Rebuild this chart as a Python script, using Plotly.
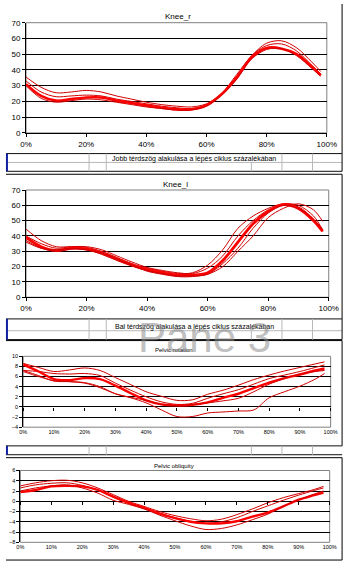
import plotly.graph_objects as go

W, H = 354, 567

# ---------------- data ----------------
x_pct = [0, 5, 10, 15, 20, 25, 30, 35, 40, 45, 50, 55, 60, 65, 70, 75, 80, 85, 90, 95, 98]

knee_r_1 = [35.5, 29, 25.5, 26, 27, 26, 23.5, 21.5, 19.5, 18, 17, 16.5, 18.5, 25, 37, 49, 57, 58.5, 54, 45, 39]
knee_r_2 = [33, 26, 23, 23.5, 24, 23.5, 21.5, 20, 18.5, 17, 16, 15.5, 18, 25, 36, 49, 55.5, 56.5, 52, 43, 37.5]
knee_r_3 = [31, 23.5, 20.5, 21.5, 22.5, 22.5, 20.5, 19, 17.5, 16, 15, 15, 17.5, 24.5, 35, 48, 54, 53.5, 50, 42, 36.5]
knee_r_4 = [30, 22, 19.5, 20.5, 21.5, 21, 19.5, 18, 16.5, 15.5, 14.5, 14.5, 17, 24, 34, 47, 53, 53.5, 49, 41, 36]

knee_l_1 = [44.5, 37, 33, 33, 32.5, 30, 26, 22, 19, 17, 15.5, 16, 21, 31, 45, 53, 58, 61, 60, 53, 44]
knee_l_2 = [40, 35, 32, 33, 33, 31, 27, 23, 19.5, 17.5, 16, 15.5, 19, 27, 40, 50, 57, 60.5, 59, 51, 43]
knee_l_3 = [39, 33, 30.5, 32, 31.5, 29, 25, 21, 18, 16, 14.5, 14.5, 16, 24, 36, 48, 56, 60.5, 58, 50, 43]
knee_l_4 = [37, 32, 30, 31.5, 31, 28, 24, 20.5, 17.5, 15.5, 14, 14, 15, 22, 32, 45, 55, 60, 58, 51, 44]
knee_l_5 = [36, 32, 31, 32, 31, 29, 25, 21, 17, 15, 13.5, 13.5, 15, 20, 30, 40, 52, 58, 61, 57, 49.5]

pelv_rot_1 = [8.6, 7.8, 7.0, 7.3, 7.7, 7.2, 5.8, 4.4, 3.0, 2.1, 1.3, 1.4, 2.5, 3.3, 4.3, 5.4, 6.3, 7.1, 7.8, 8.5, 8.9]
pelv_rot_2 = [7.2, 7.0, 6.6, 6.5, 6.6, 6.2, 4.7, 3.3, 2.0, 1.0, 0.5, 0.7, 1.7, 2.6, 3.4, 4.5, 5.6, 6.3, 7.0, 7.8, 8.3]
pelv_rot_3 = [8.4, 7.0, 5.5, 5.3, 5.7, 5.5, 4.2, 2.7, 1.3, 0.5, 0.3, 0.4, 0.9, 1.8, 2.6, 3.7, 4.8, 5.7, 6.4, 7.2, 7.6]
pelv_rot_4 = [7.2, 6.2, 5.1, 5.0, 4.8, 4.0, 2.6, 1.9, 1.3, 0.5, 0.3, 0.5, 0.8, 1.2, 1.7, 3.0, 4.5, 5.6, 6.5, 7.0, 7.2]
pelv_rot_5 = [7.0, 6.0, 5.2, 5.0, 4.7, 3.8, 2.6, 1.8, 0.8, -0.6, -1.9, -1.9, -1.2, -1.0, -0.8, -0.6, 1.8, 3.0, 4.1, 5.5, 6.6]

pelv_obl_1 = [3.0, 3.6, 4.0, 4.1, 3.6, 2.6, 1.3, 0.0, -1.0, -2.0, -2.8, -3.4, -3.8, -3.5, -2.6, -1.5, -0.3, 0.7, 1.5, 2.3, 2.9]
pelv_obl_2 = [2.6, 3.2, 3.5, 3.6, 3.1, 2.2, 0.8, -0.4, -1.3, -2.3, -3.2, -3.9, -4.3, -4.0, -3.2, -2.0, -0.9, 0.2, 1.2, 2.1, 2.6]
pelv_obl_3 = [1.8, 2.2, 2.9, 3.0, 2.9, 2.2, 0.9, -0.3, -1.3, -2.4, -3.3, -4.0, -4.3, -4.3, -3.9, -3.0, -2.2, -1.0, 0.3, 1.2, 1.7]
pelv_obl_4 = [2.0, 2.6, 3.0, 3.2, 2.6, 1.6, 0.2, -0.6, -1.5, -2.7, -3.8, -4.8, -5.5, -5.3, -4.6, -3.6, -2.5, -1.0, 0.3, 1.4, 2.0]

titles = ["Knee_r", "Knee_l", "Pelvic rotation", "Pelvic obliquity"]
row_texts = ["Jobb térdszög alakulása a lépés ciklus százalékában",
             "Bal térdszög alakulása a lépés ciklus százalékában"]

# ---------------- helpers ----------------
def px(x):
    return x / W

def py(y):
    return 1 - y / H

FONT = "Liberation Sans, Arial, sans-serif"
THIN = "#d00000"
THICK = "#ff0000"

fig = go.Figure()

charts = [
    dict(series=[(knee_r_1, 1), (knee_r_2, 1), (knee_r_3, 2.6), (knee_r_4, 1)],
         xd=[21, 336], yd=[19, 131], yr=[0, 70], ydt=10, xdt=20, fs=8, title_y=13, title_x=180, tfs=8),
    dict(series=[(knee_l_1, 1), (knee_l_2, 1), (knee_l_3, 2.8), (knee_l_4, 1), (knee_l_5, 1)],
         xd=[21, 338], yd=[189, 298], yr=[0, 70], ydt=10, xdt=20, fs=8, title_y=183, title_x=177, tfs=8),
    dict(series=[(pelv_rot_1, 1), (pelv_rot_2, 1), (pelv_rot_3, 2.4), (pelv_rot_4, 1), (pelv_rot_5, 1)],
         xd=[18, 340], yd=[358, 430], yr=[-4, 10], ydt=2, xdt=10, fs=5.5, title_y=352, title_x=176, tfs=6),
    dict(series=[(pelv_obl_1, 1), (pelv_obl_2, 1), (pelv_obl_3, 2.4), (pelv_obl_4, 1)],
         xd=[15, 339], yd=[474, 547], yr=[-8, 6], ydt=2, xdt=10, fs=5.5, title_y=469, title_x=176, tfs=6),
]

shapes = []
annotations = []

for i, c in enumerate(charts):
    n = i + 1
    xa = "x" if n == 1 else f"x{n}"
    ya = "y" if n == 1 else f"y{n}"
    xkey = "xaxis" if n == 1 else f"xaxis{n}"
    ykey = "yaxis" if n == 1 else f"yaxis{n}"
    for vals, lw in c["series"]:
        fig.add_trace(go.Scatter(x=x_pct, y=vals, mode="lines", xaxis=xa, yaxis=ya,
                                 line=dict(color=THICK if lw > 1.5 else THIN, width=lw, shape="spline", smoothing=0.9),
                                 showlegend=False, hoverinfo="skip"))
    ydom = [py(c["yd"][1]), py(c["yd"][0])]
    xdom = [px(c["xd"][0]), px(c["xd"][1])]
    small = c["fs"] < 7
    fig.update_layout(**{
        xkey: dict(domain=xdom, range=[0, 100], anchor=ya, dtick=c["xdt"], tick0=0,
                   ticksuffix="%", showgrid=False, zeroline=False,
                   showline=not small, linecolor="black", linewidth=1,
                   ticks="" if small else "outside", ticklen=3, tickcolor="black",
                   tickfont=dict(family=FONT, size=c["fs"], color="black")),
        ykey: dict(domain=ydom, range=c["yr"], anchor=xa, dtick=c["ydt"], tick0=0,
                   showgrid=True, gridcolor="black", gridwidth=1, zeroline=False,
                   showline=True, linecolor="black", linewidth=1,
                   ticks="outside", ticklen=3, tickcolor="black",
                   tickfont=dict(family=FONT, size=c["fs"], color="black")),
    })
    if small:
        # Excel-style category axis crossing at zero: tick marks on the 0 line
        zero_pos = ydom[0] + (0 - c["yr"][0]) / (c["yr"][1] - c["yr"][0]) * (ydom[1] - ydom[0])
        xk2 = f"xaxis{n + 4}"
        fig.update_layout(**{
            xk2: dict(domain=xdom, range=[0, 100], anchor="free", position=zero_pos, overlaying=xa,
                      dtick=c["xdt"], tick0=0, showticklabels=False, showgrid=False, zeroline=False,
                      showline=False, ticks="outside", ticklen=3, tickcolor="black")})
        fig.add_trace(go.Scatter(x=[None], y=[None], xaxis=f"x{n + 4}", yaxis=ya, showlegend=False))
    # plot-area border (gray)
    shapes.append(dict(type="rect", xref=f"{xa} domain", yref=f"{ya} domain", x0=0, x1=1, y0=0, y1=1,
                       line=dict(color="#808080", width=1), layer="below"))
    annotations.append(dict(text=titles[i], x=px(c["title_x"]), y=py(c["title_y"]), xref="paper", yref="paper",
                            showarrow=False, xanchor="center", yanchor="middle",
                            font=dict(family=FONT, size=c["tfs"], color="black")))

# chart frames (black)
def hline(y, x0=0, x1=352, color="black", w=1):
    shapes.append(dict(type="line", xref="paper", yref="paper", x0=px(x0), x1=px(x1), y0=py(y), y1=py(y),
                       line=dict(color=color, width=w)))

def vline(x, y0, y1, color="black", w=1):
    shapes.append(dict(type="line", xref="paper", yref="paper", x0=px(x), x1=px(x), y0=py(y0), y1=py(y1),
                       line=dict(color=color, width=w)))

GRAY = "#b8b8b8"
# frames
vline(352, 0, 152)
vline(352, 173, 320)
hline(173)
vline(352, 342, 449)
hline(342)
vline(352, 461, 565)
hline(461)
hline(565)

# spreadsheet rows
for top, mid, bot in [(152, 161, 170), (320, 332, 341)]:
    hline(top, 0, 352, "#101010")
    hline(bot, 0, 352, "#101010")
    hline(mid, 0, 352, GRAY)
    vline(1, top, bot, "#1020a0", 2)
    vline(352, top, bot)
    for xv in (87, 105, 289, 321):
        vline(xv, top, bot, GRAY)
    vline(257, mid, bot, GRAY)
hline(449, 0, 352, "#101010")
hline(458, 0, 352, "#101010")
vline(1, 449, 458, "#1020a0", 2)
for xv in (87, 105, 257, 289, 321):
    vline(xv, 449, 458, GRAY)

for txt, yy in zip(row_texts, [157, 328]):
    annotations.append(dict(text=txt, x=px(197), y=py(yy), xref="paper", yref="paper", showarrow=False,
                            xanchor="center", yanchor="middle",
                            font=dict(family=FONT, size=7, color="black")))

# watermark
annotations.append(dict(text="Pane 3", x=px(208), y=py(339), xref="paper", yref="paper", showarrow=False,
                        xanchor="center", yanchor="middle",
                        font=dict(family=FONT, size=42, color="rgba(140,140,140,0.55)")))

fig.update_layout(width=W, height=H, margin=dict(l=0, r=0, t=0, b=0),
                  paper_bgcolor="white", plot_bgcolor="white",
                  shapes=shapes, annotations=annotations, showlegend=False)

fig.write_html("out.html")
